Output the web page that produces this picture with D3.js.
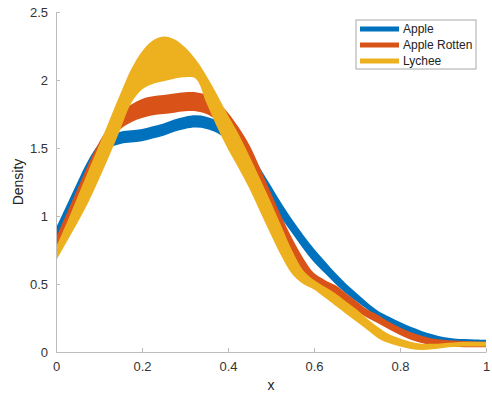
<!DOCTYPE html>
<html>
<head>
<meta charset="utf-8">
<script src="https://cdn.jsdelivr.net/npm/d3@7"></script>
<style>
  body { margin: 0; background: #fff; }
  #chart { width: 492px; height: 396px; }
  .axis path, .axis line { stroke: #bcbcbc; }
  .axis text { fill: #333; font-family: "Liberation Sans", Arial, sans-serif; font-size: 13px; }
  .label { fill: #222; font-family: "Liberation Sans", Arial, sans-serif; font-size: 14px; }
  .legend text { fill: #222; font-family: "Liberation Sans", Arial, sans-serif; font-size: 12px; }
</style>
</head>
<body>
<div id="chart"></div>
<script>

// x grid shared by all bands
var xs = [0, 0.025, 0.05, 0.075, 0.1, 0.125, 0.15, 0.175, 0.2, 0.225, 0.25, 0.275, 0.3, 0.325, 0.35, 0.375, 0.4, 0.425, 0.45, 0.475,
          0.5, 0.525, 0.55, 0.575, 0.6, 0.625, 0.65, 0.675, 0.7, 0.725, 0.75, 0.775, 0.8, 0.825, 0.85, 0.875, 0.9, 0.925, 0.95, 0.975, 1];

// Apple
var appleLow = [0.83, 0.98, 1.13, 1.28, 1.41, 1.50, 1.53, 1.54, 1.55, 1.57, 1.59, 1.62, 1.64, 1.65, 1.64, 1.61, 1.55, 1.46, 1.35, 1.23,
                1.10, 0.98, 0.87, 0.76, 0.66, 0.58, 0.50, 0.43, 0.37, 0.31, 0.25, 0.20, 0.16, 0.13, 0.10, 0.08, 0.065, 0.055, 0.05, 0.047, 0.045];
var appleHigh = [0.91, 1.08, 1.25, 1.41, 1.53, 1.59, 1.62, 1.63, 1.64, 1.66, 1.68, 1.71, 1.73, 1.74, 1.73, 1.70, 1.65, 1.57, 1.48, 1.35,
                 1.22, 1.09, 0.97, 0.86, 0.76, 0.67, 0.58, 0.50, 0.43, 0.36, 0.30, 0.26, 0.22, 0.185, 0.155, 0.13, 0.11, 0.10, 0.095, 0.092, 0.09];

// Apple Rotten
var rottenLow = [0.76, 0.91, 1.06, 1.22, 1.39, 1.54, 1.64, 1.69, 1.72, 1.74, 1.75, 1.76, 1.77, 1.77, 1.75, 1.70, 1.62, 1.50, 1.36, 1.19,
                 1.02, 0.86, 0.71, 0.59, 0.50, 0.45, 0.41, 0.36, 0.30, 0.25, 0.21, 0.165, 0.125, 0.09, 0.066, 0.05, 0.04, 0.036, 0.035, 0.035, 0.035];
var rottenHigh = [0.84, 1.02, 1.20, 1.38, 1.54, 1.67, 1.76, 1.82, 1.86, 1.88, 1.89, 1.90, 1.91, 1.91, 1.89, 1.84, 1.76, 1.65, 1.52, 1.35,
                  1.17, 0.99, 0.83, 0.69, 0.58, 0.53, 0.49, 0.43, 0.37, 0.31, 0.27, 0.22, 0.18, 0.145, 0.12, 0.10, 0.09, 0.085, 0.08, 0.078, 0.075];

// Lychee
var lycheeLow = [0.67, 0.81, 0.95, 1.10, 1.27, 1.45, 1.64, 1.83, 1.93, 1.97, 1.99, 2.01, 2.02, 2.01, 1.83, 1.65, 1.49, 1.35, 1.20, 1.03,
                 0.86, 0.70, 0.57, 0.50, 0.46, 0.40, 0.34, 0.28, 0.22, 0.16, 0.10, 0.065, 0.04, 0.022, 0.015, 0.02, 0.03, 0.036, 0.04, 0.04, 0.04];
var lycheeHigh = [0.77, 0.95, 1.14, 1.33, 1.52, 1.71, 1.90, 2.08, 2.21, 2.29, 2.32, 2.30, 2.24, 2.15, 2.03, 1.89, 1.74, 1.60, 1.44, 1.27,
                  1.10, 0.92, 0.74, 0.60, 0.53, 0.48, 0.43, 0.37, 0.31, 0.24, 0.18, 0.13, 0.10, 0.075, 0.06, 0.06, 0.065, 0.07, 0.075, 0.075, 0.075];

var seriesNames = ["Apple", "Apple Rotten", "Lychee"];
var colors = ["#0072BD", "#D95319", "#EDB120"];

var xTicks = [0, 0.2, 0.4, 0.6, 0.8, 1];
var yTicks = [0, 0.5, 1, 1.5, 2, 2.5];


var margin = { top: 12, right: 6, bottom: 44, left: 56 };
var width = 492 - margin.left - margin.right,
    height = 396 - margin.top - margin.bottom;

var svg = d3.select("#chart")
    .append("svg")
    .attr("width", 492)
    .attr("height", 396)
    .append("g")
    .attr("transform", "translate(" + margin.left + "," + margin.top + ")");

var x = d3.scaleLinear().domain([0, 1]).range([0, width]);
var y = d3.scaleLinear().domain([0, 2.5]).range([height, 0]);

var bands = [
    { name: seriesNames[0], low: appleLow, high: appleHigh },
    { name: seriesNames[1], low: rottenLow, high: rottenHigh },
    { name: seriesNames[2], low: lycheeLow, high: lycheeHigh }
];

var area = d3.area()
    .x(function (d) { return x(d.x); })
    .y0(function (d) { return y(d.lo); })
    .y1(function (d) { return y(d.hi); })
    .curve(d3.curveCatmullRom);

svg.append("g")
    .selectAll(".band")
    .data(bands)
    .enter()
    .append("path")
    .attr("class", "band")
    .attr("d", function (b) {
        return area(xs.map(function (v, i) { return { x: v, lo: b.low[i], hi: b.high[i] }; }));
    })
    .style("fill", function (d, i) { return colors[i]; });

// axes, ticks inside like matlab
svg.append("g")
    .attr("class", "axis axis-x")
    .attr("transform", "translate(0," + height + ")")
    .call(d3.axisBottom(x).tickValues(xTicks).tickSizeInner(-4).tickSizeOuter(0).tickPadding(10)
        .tickFormat(function (d) { return d; }));

svg.append("g")
    .attr("class", "axis axis-y")
    .call(d3.axisLeft(y).tickValues(yTicks).tickSizeInner(-4).tickSizeOuter(0).tickPadding(8)
        .tickFormat(function (d) { return d; }));

svg.append("text")
    .attr("class", "label")
    .attr("x", width / 2)
    .attr("y", height + 38)
    .style("text-anchor", "middle")
    .text("x");

svg.append("text")
    .attr("class", "label")
    .attr("transform", "translate(-33," + (height / 2) + ") rotate(-90)")
    .style("text-anchor", "middle")
    .text("Density");

// legend
var legend = svg.append("g")
    .attr("class", "legend")
    .attr("transform", "translate(" + (width - 130) + ",8)");

legend.append("rect")
    .attr("x", 0)
    .attr("y", 0)
    .attr("width", 120)
    .attr("height", 49)
    .style("fill", "#fff")
    .style("stroke", "#a8a8a8");

legend.selectAll(".key")
    .data(seriesNames)
    .enter()
    .append("line")
    .attr("x1", 4)
    .attr("x2", 43)
    .attr("y1", function (d, i) { return 9 + 16 * i; })
    .attr("y2", function (d, i) { return 9 + 16 * i; })
    .style("stroke", function (d, i) { return colors[i]; })
    .style("stroke-width", 5);

legend.selectAll(".keytext")
    .data(seriesNames)
    .enter()
    .append("text")
    .attr("x", 47)
    .attr("y", function (d, i) { return 13 + 16 * i; })
    .text(function (d) { return d; });

</script>
</body>
</html>
